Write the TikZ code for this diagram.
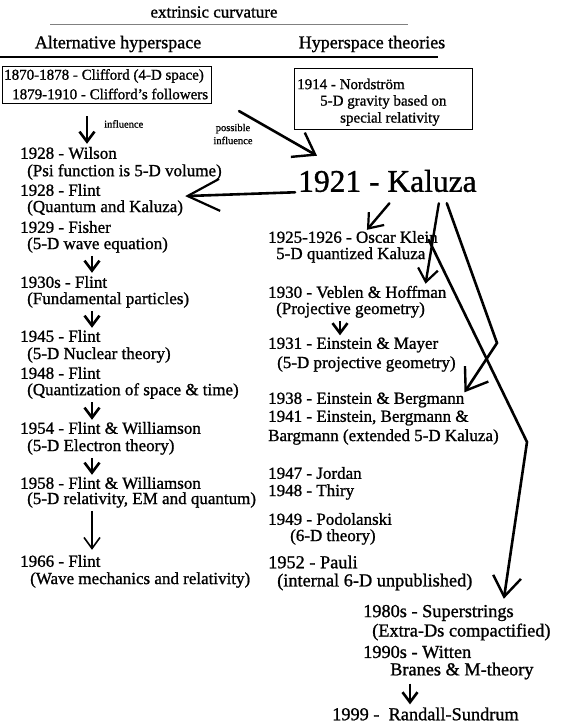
\documentclass[tikz,border=0pt]{standalone}
\usepackage{fontspec}
\setmainfont{Liberation Serif}[RawFeature={embolden=1.1}]
\usetikzlibrary{arrows.meta,calc}

\tikzset{
  entry/.style={anchor=west, inner sep=0pt, font=\fontsize{17}{19}\selectfont},
  bigentry/.style={entry, font=\fontsize{18.3}{21}\selectfont},
  boxtext/.style={anchor=west, inner sep=0pt, font=\fontsize{15}{17}\selectfont},
  note/.style={inner sep=0pt, align=center, font=\fontsize{10.5}{13}\selectfont},
  headtext/.style={inner sep=0pt, font=\fontsize{18}{20}\selectfont},
  tbox/.style={draw, line width=1.1pt, anchor=north west, inner sep=0pt},
  bigarrow/.style={line width=2.6pt, line cap=round, -{Straight Barb[length=20pt,width=28pt,line width=2.4pt]}},
  medarrow/.style={line width=2.4pt, line cap=round, -{Straight Barb[length=13pt,width=20pt,line width=2.2pt]}},
  downarrow/.style={line width=2.8pt, -{Straight Barb[length=10pt,width=15pt,line width=2.6pt]}},
}

\begin{document}
\begin{tikzpicture}[x=1pt, y=-1pt]
\useasboundingbox (0,0) rectangle (564,724);

% Headings
\node[headtext, font=\fontsize{17}{20}\selectfont] (extr) at (214,12) {extrinsic curvature};
\draw[line width=0.8pt, gray] (50,24) -- (408,24);
\node[headtext] (alt) at (118,44) {Alternative hyperspace};
\node[headtext] (hyp) at (372,44) {Hyperspace theories};
\draw[line width=2.2pt] (0,57) -- (438,57);

% Boxes
\node[tbox, minimum width=209pt, minimum height=37pt] (clifford) at (2,66) {};
\node[boxtext] (c1) at (4,76) {1870-1878 - Clifford (4-D space)};
\node[boxtext] (c2) at (12,94) {1879-1910 - Clifford's followers};
\node[tbox, minimum width=178pt, minimum height=61pt] (nord) at (294,68) {};
\node[boxtext] (n1) at (297,84) {1914 - Nordström};
\node[boxtext] (n2) at (320,102) {5-D gravity based on};
\node[boxtext] (n3) at (340,119) {special relativity};

% Small labels
\node[note, anchor=west] (infl) at (104,124) {influence};
\node[note] (possinfl) at (233,134) {possible\\influence};

% Left column
\node[entry] (wilson) at (20,153) {1928 - Wilson};
\node[entry] (wilson-d) at (27,172) {(Psi function is 5-D volume)};
\node[entry] (flint1) at (20,190) {1928 - Flint};
\node[entry] (flint1-d) at (27,208) {(Quantum and Kaluza)};
\node[entry] (fisher) at (20,227) {1929 - Fisher};
\node[entry] (fisher-d) at (27,245) {(5-D wave equation)};
\node[entry] (flint2) at (20,282) {1930s - Flint};
\node[entry] (flint2-d) at (27,300) {(Fundamental particles)};
\node[entry] (flint3) at (20,336) {1945 - Flint};
\node[entry] (flint3-d) at (27,355) {(5-D Nuclear theory)};
\node[entry] (flint4) at (20,373) {1948 - Flint};
\node[entry] (flint4-d) at (27,391) {(Quantization of space \& time)};
\node[entry] (fw1) at (20,428) {1954 - Flint \& Williamson};
\node[entry] (fw1-d) at (27,447) {(5-D Electron theory)};
\node[entry] (fw2) at (20,483) {1958 - Flint \& Williamson};
\node[entry] (fw2-d) at (27,500) {(5-D relativity, EM and quantum)};
\node[entry] (flint5) at (20,561) {1966 - Flint};
\node[entry] (flint5-d) at (30,580) {(Wave mechanics and relativity)};

% Right column
\node[anchor=west, inner sep=0pt, font=\fontsize{31.5}{34}\selectfont] (kaluza) at (298,181) {1921 - Kaluza};
\node[entry] (klein) at (268,237) {1925-1926 - Oscar Klein};
\node[entry] (klein-d) at (276,255) {5-D quantized Kaluza};
\node[entry] (veblen) at (268,292) {1930 - Veblen \& Hoffman};
\node[entry] (veblen-d) at (276,310) {(Projective geometry)};
\node[entry] (mayer) at (268,345) {1931 - Einstein \& Mayer};
\node[entry] (mayer-d) at (277,364) {(5-D projective geometry)};
\node[entry] (eb1) at (268,400) {1938 - Einstein \& Bergmann};
\node[entry] (eb2) at (268,418) {1941 - Einstein, Bergmann \&};
\node[entry] (eb3) at (268,437) {Bargmann (extended 5-D Kaluza)};
\node[entry] (jordan) at (268,473) {1947 - Jordan};
\node[entry] (thiry) at (268,492) {1948 - Thiry};
\node[entry] (podol) at (268,519) {1949 - Podolanski};
\node[entry] (podol-d) at (290,537) {(6-D theory)};
\node[bigentry] (pauli) at (268,562) {1952 - Pauli};
\node[bigentry] (pauli-d) at (277,582) {(internal 6-D unpublished)};
\node[bigentry] (strings) at (363,613) {1980s - Superstrings};
\node[bigentry] (strings-d) at (372,632) {(Extra-Ds compactified)};
\node[bigentry] (witten) at (363,652) {1990s - Witten};
\node[bigentry] (witten-d) at (390,671) {Branes \& M-theory};
\node[bigentry] (randall) at (332,714) {1999 -~~Randall-Sundrum};

% Bends
\coordinate (bend1) at (497,343);
\coordinate (bend2) at (527,442);
\coordinate (lspine) at (92,0);
\coordinate (rspine) at (340,0);

% Connections
\draw[downarrow] (clifford.south -| 87,0) ++(0,12) -- ($(wilson.north -| 87,0)+(0,-3)$);
\draw[bigarrow] ($(clifford.south east)+(27,7)$) -- ($(kaluza.north west)+(19,-14)$);
\draw[bigarrow, -{Straight Barb[length=32pt,width=32pt,line width=2.2pt]}] ($(kaluza.south west)+(-3,0)$) -- ($(flint1-d.north east)+(2,-4)$);
\draw[medarrow] ($(kaluza.south)+(2,11)$) -- ($(klein.north)+(14,-1)$);
\draw[medarrow] ($(kaluza.south east)+(-38,11)$) -- ($(veblen.north east)+(-21,-2)$);
\draw[bigarrow] ($(kaluza.south east)+(-30,11)$) -- (bend1) -- (eb1.north east);
\draw[bigarrow] ($(klein.east)+(-9,3)$) -- (bend2) -- ($(strings.north east)+(-10,-6)$);
\draw[downarrow] ($(lspine |- fisher-d.south)+(0,3)$) -- ($(lspine |- flint2.north)+(0,-3)$);
\draw[downarrow] ($(lspine |- flint2-d.south)+(0,3)$) -- ($(lspine |- flint3.north)+(0,-2)$);
\draw[downarrow] ($(lspine |- flint4-d.south)+(0,3)$) -- ($(lspine |- fw1.north)+(0,-2)$);
\draw[downarrow] ($(lspine |- fw1-d.south)+(0,3)$) -- ($(lspine |- fw2.north)+(0,-2)$);
\draw[line width=1.6pt, -{Straight Barb[length=11pt,width=16pt,line width=1.6pt]}] ($(lspine |- fw2-d.south)+(0,3)$) -- ($(lspine |- flint5.north)+(0,-5)$);
\draw[downarrow] ($(rspine |- veblen-d.south)+(0,3)$) -- ($(rspine |- mayer.north)+(0,-2)$);
\draw[downarrow] ($(witten-d.south -| 410,0)+(0,4)$) -- ($(randall.north -| 410,0)+(0,-3)$);
\end{tikzpicture}
\end{document}
